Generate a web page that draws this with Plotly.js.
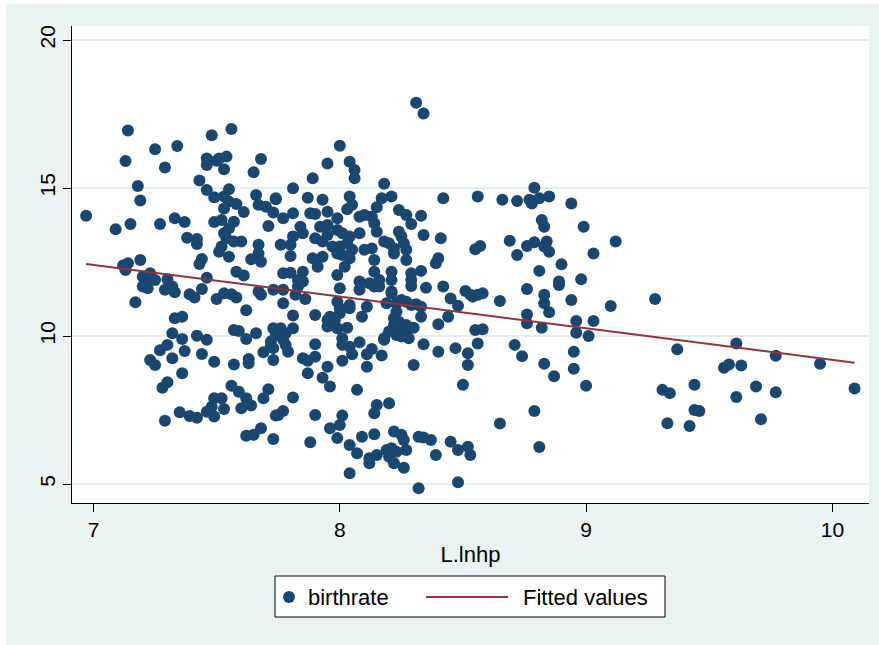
<!DOCTYPE html>
<html><head><meta charset="utf-8">
<script src="https://cdn.plot.ly/plotly-3.0.1.min.js"></script>
<style>html,body{margin:0;padding:0;background:#fff}#chart{width:879px;height:645px}</style>
</head><body><div id="chart"></div>
<script>
// L.lnhp (x) values
const lnhp = [
7.14,7.56,7.48,7.25,7.34,7.13,7.29,7.46,7.51,7.54,
7.46,7.53,7.50,7.68,7.65,7.43,7.18,7.19,7.46,7.55,
7.49,7.53,7.55,7.53,7.58,7.61,7.66,7.67,7.70,7.73,
7.74,6.97,7.09,7.15,7.27,7.33,7.37,7.49,7.52,7.57,
7.71,7.38,7.42,7.42,7.53,7.55,7.54,7.52,7.57,7.60,
7.51,7.55,7.67,7.67,7.64,7.68,7.44,7.43,7.19,7.12,
7.14,7.13,7.58,7.61,7.46,7.20,7.23,7.25,7.21,7.30,
7.20,7.22,7.29,7.33,7.32,7.39,7.41,7.44,7.50,7.53,
7.56,7.58,7.62,7.67,7.68,7.73,7.17,7.33,7.36,7.32,
7.36,7.42,7.46,7.30,7.27,7.37,7.32,7.44,7.23,7.25,
7.49,7.57,7.63,7.63,7.57,7.59,7.62,7.66,7.72,7.74,
7.69,7.73,7.73,7.36,7.30,7.28,7.56,7.59,7.62,7.64,
7.60,7.71,7.69,7.49,7.52,7.53,7.48,7.49,7.46,7.35,
7.39,7.42,7.29,7.74,7.62,7.65,7.68,7.73,
7.77,7.83,8.00,8.08,8.14,8.16,8.21,8.29,8.35,8.42,
8.51,7.77,7.82,7.86,7.99,8.00,8.04,8.04,8.11,8.09,
8.00,8.21,8.19,8.23,8.25,8.27,8.29,8.31,8.33,8.23,
8.22,8.24,8.22,8.45,8.48,8.53,8.33,8.44,8.40,7.81,
7.90,7.95,7.96,7.98,7.97,7.95,7.99,8.03,7.73,7.76,
7.78,7.81,7.74,8.20,8.18,8.18,8.24,8.27,8.27,8.23,
8.25,8.28,8.30,8.01,8.01,8.04,8.08,8.05,7.90,7.72,
7.78,7.79,7.77,7.85,7.87,7.90,7.87,8.01,7.95,7.93,
7.96,8.11,8.11,8.13,8.17,8.34,8.40,8.47,8.30,8.52,
8.52,8.07,8.50,7.81,7.75,7.77,7.90,8.15,8.14,8.20,
8.01,8.00,7.96,7.99,7.88,8.04,8.07,8.09,8.14,8.12,
8.12,8.15,8.22,8.25,8.26,8.19,8.21,8.23,8.20,8.22,
8.26,8.27,8.32,8.34,8.37,8.39,8.45,8.48,8.52,8.53,
8.04,8.32,8.48,
8.54,8.56,8.58,8.65,8.76,8.83,8.83,8.85,8.89,8.94,
9.10,9.28,8.76,8.76,8.82,8.96,9.03,8.96,9.01,8.55,
8.58,8.56,8.71,8.74,8.83,8.87,8.95,8.95,9.00,8.79,
8.65,8.81,
8.56,8.66,8.72,8.79,8.77,8.78,8.81,8.85,8.94,8.82,
8.83,8.99,8.69,8.55,8.57,8.76,8.79,8.84,8.83,8.85,
8.72,9.12,9.03,8.90,8.81,8.89,8.98,
9.37,9.61,9.56,9.58,9.63,9.77,9.95,9.31,9.34,9.44,
9.69,9.77,10.09,9.61,9.44,9.46,9.33,9.42,9.71,
8.31,8.34,8.00,7.95,8.04,8.06,8.06,7.89,7.81,8.18,
7.74,7.87,7.93,8.04,8.05,8.03,8.17,8.15,8.21,8.42,
7.77,7.81,7.88,7.90,7.95,7.99,8.08,8.10,8.13,8.14,
8.15,8.24,8.27,8.29,8.33,7.84,7.85,7.81,7.80,7.76,
7.80,7.92,7.95,7.99,8.01,8.04,7.90,7.93,7.95,7.97,
8.00,8.03,8.05,7.99,8.01,8.04,7.93,7.89,7.91,8.02,
8.08,8.10,8.13,8.14,8.14,8.18,8.20,8.22,8.22,8.24,
8.25,8.26,8.27,8.27,8.34,8.41,8.40,8.39,8.21,8.21,
8.29,8.29,8.33,7.77,7.80,7.85,7.83,7.85,7.99,8.08,
8.12,8.16
];
// birthrate (y) values
const birthrate = [
16.94,16.99,16.78,16.31,16.42,15.91,15.69,16.00,16.00,16.06,
15.78,15.63,15.92,15.98,15.53,15.25,15.07,14.58,14.93,14.96,
14.69,14.71,14.54,14.31,14.46,14.19,14.76,14.43,14.37,14.17,
14.62,14.06,13.61,13.78,13.78,13.98,13.85,13.85,13.92,13.86,
13.72,13.32,13.28,13.11,13.47,13.64,13.30,13.02,13.19,13.19,
12.85,12.68,13.08,12.79,12.59,12.51,12.60,12.43,12.57,12.38,
12.46,12.23,12.17,12.04,11.97,12.00,12.12,11.89,11.78,11.92,
11.67,11.61,11.56,11.48,11.67,11.41,11.30,11.59,11.25,11.44,
11.41,11.30,10.87,11.50,11.39,11.56,11.14,10.60,10.65,10.09,
9.90,10.01,9.87,9.70,9.52,9.49,9.25,9.39,9.19,9.02,
9.13,9.04,9.22,9.08,10.20,10.17,9.90,10.09,9.81,10.20,
9.45,9.59,9.19,8.74,8.44,8.25,8.32,8.12,7.90,7.65,
7.56,8.20,7.90,7.90,7.90,7.53,7.61,7.28,7.44,7.42,
7.30,7.24,7.14,7.31,6.63,6.66,6.88,6.52,
11.56,11.67,11.61,11.56,11.67,11.67,11.50,11.69,11.63,11.67,
11.52,11.11,11.39,11.25,11.16,10.94,10.94,11.05,10.99,10.65,
10.77,11.44,11.11,11.11,11.22,11.16,11.05,11.07,10.99,10.82,
10.60,10.48,10.37,11.27,11.02,11.39,10.65,10.65,10.40,10.69,
10.71,10.54,10.65,10.54,10.37,10.32,10.26,10.28,10.26,10.26,
10.09,10.26,10.03,10.15,9.92,9.87,10.32,10.37,10.15,10.03,
9.98,9.92,10.28,9.92,9.70,9.64,9.79,9.38,9.72,9.64,
9.70,9.47,9.87,9.25,9.16,9.30,8.74,9.16,8.96,8.59,
8.29,8.96,9.38,9.56,9.34,9.72,9.47,9.59,9.02,9.42,
9.02,8.18,8.35,7.92,7.33,7.47,7.33,7.67,7.39,7.73,
7.31,6.99,6.88,6.55,6.41,6.32,6.04,6.60,6.68,5.87,
5.70,5.98,6.77,6.66,6.49,6.15,6.21,6.09,5.92,5.70,
5.55,6.15,6.60,6.57,6.49,5.98,6.43,6.15,6.26,5.98,
5.36,4.86,5.06,
11.33,11.39,11.44,11.18,11.59,11.39,11.11,10.80,11.72,11.22,
11.01,11.25,10.73,10.43,10.28,10.51,10.51,10.11,10.00,10.20,
10.23,9.75,9.70,9.32,9.06,8.64,9.47,8.89,8.32,7.47,
7.04,6.25,
14.71,14.60,14.56,15.01,14.60,14.48,14.65,14.71,14.48,13.92,
13.69,13.69,13.22,12.93,13.04,13.04,13.17,13.19,13.02,12.85,
12.74,13.19,12.79,12.42,12.20,11.84,11.92,
9.55,9.75,8.93,9.04,9.00,9.33,9.06,8.18,8.07,8.35,
8.29,8.10,8.23,7.94,7.50,7.47,7.05,6.96,7.19,
17.88,17.52,16.43,15.83,15.89,15.61,15.33,15.33,14.99,15.14,
14.65,14.67,14.60,14.71,14.43,14.28,14.65,14.35,14.71,14.65,
13.98,14.15,14.15,14.12,14.20,13.98,14.03,14.09,14.03,13.81,
13.52,14.26,14.09,13.78,14.06,13.69,13.47,13.36,13.08,13.08,
12.70,13.69,13.75,13.58,13.47,13.36,13.30,13.19,13.41,13.02,
13.02,13.13,12.91,12.79,12.74,12.63,12.68,12.63,12.34,12.34,
13.47,12.91,12.96,12.57,12.17,13.19,13.13,12.96,12.79,13.52,
13.36,13.13,12.91,12.57,13.41,13.30,12.63,12.46,12.17,11.89,
12.12,11.89,12.20,12.12,12.14,12.17,11.89,11.84,12.06,11.84,
11.78,11.89
];
// Fitted values (linear fit, endpoints)
const fitX = [6.97, 10.09];
const fitY = [12.43, 9.10];
const xTicks = [7, 8, 9, 10];
const yTicks = [5, 10, 15, 20];
const seriesNames = ['birthrate', 'Fitted values'];

const font = 'Liberation Sans, Arial, Helvetica, sans-serif';
const markerColor = '#1a476f', lineColor = '#90353b';
const data = [
  {type:'scatter', mode:'markers', x: lnhp, y: birthrate, name: seriesNames[0],
   marker:{color: markerColor, size:12, line:{width:0}}},
  {type:'scatter', mode:'lines', x: fitX, y: fitY, name: seriesNames[1],
   line:{color: lineColor, width:2}}
];
const W = 879, H = 645, L = 72, R = 10, T = 26, B = 142;
const pw = W - L - R, ph = H - T - B;
const px = v => (v - L) / pw, py = v => (H - B - v) / ph;
const layout = {
  width: W, height: H,
  margin:{l:L, r:R, t:T, b:B, pad:0},
  paper_bgcolor:'#ffffff', plot_bgcolor:'#ffffff',
  font:{family:font, size:21, color:'#000'},
  showlegend:false,
  xaxis:{range:[6.9127, 10.1486], tickvals:xTicks, ticktext:xTicks.map(String),
    showgrid:false, zeroline:false, showline:true, linecolor:'#000', linewidth:1,
    ticks:'outside', ticklen:8, tickcolor:'#000', tickwidth:1,
    tickfont:{family:font, size:21, color:'#000'},
    title:{text:'L.lnhp', font:{family:font, size:22, color:'#000'}, standoff:6}},
  yaxis:{range:[4.358, 20.473], tickvals:yTicks, ticktext:yTicks.map(String),
    showgrid:true, gridcolor:'#e4edef', gridwidth:1.5, zeroline:false,
    showline:true, linecolor:'#000', linewidth:1,
    ticks:'outside', ticklen:8, tickcolor:'#000', tickwidth:1, tickangle:-90,
    tickfont:{family:font, size:21, color:'#000'}},
  shapes:[
    {type:'rect', xref:'paper', yref:'paper', x0:px(6), x1:px(W), y0:py(H), y1:py(4),
     fillcolor:'#eaf2f3', line:{width:0}, layer:'below'},
    {type:'rect', xref:'paper', yref:'paper', x0:0, x1:1, y0:0, y1:1,
     fillcolor:'#ffffff', line:{width:0}, layer:'below'},
    // legend box
    {type:'rect', xref:'paper', yref:'paper', x0:px(275), x1:px(665), y0:py(617), y1:py(576),
     fillcolor:'#ffffff', line:{color:'#000', width:1}},
    // legend marker
    {type:'circle', xref:'paper', yref:'paper', x0:px(283), x1:px(295), y0:py(603), y1:py(591),
     fillcolor:markerColor, line:{width:0}},
    // legend line
    {type:'line', xref:'paper', yref:'paper', x0:px(426), x1:px(508), y0:py(597), y1:py(597),
     line:{color:lineColor, width:2}}
  ],
  annotations:[
    {xref:'paper', yref:'paper', x:px(306), y:py(597), xanchor:'left', yanchor:'middle',
     text:seriesNames[0], showarrow:false, font:{family:font, size:22, color:'#000'}},
    {xref:'paper', yref:'paper', x:px(521), y:py(597), xanchor:'left', yanchor:'middle',
     text:seriesNames[1], showarrow:false, font:{family:font, size:22, color:'#000'}}
  ]
};
Plotly.newPlot('chart', data, layout, {displayModeBar:false, staticPlot:true});
</script>
</body></html>
